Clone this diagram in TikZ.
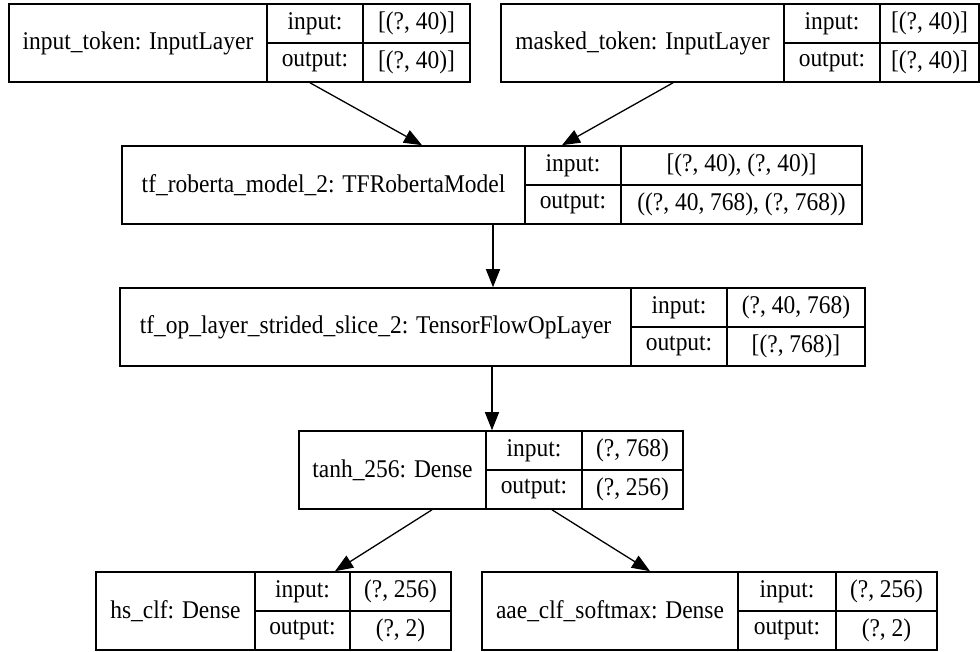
\documentclass[tikz,border=0pt]{standalone}
\usepackage{fontspec}
\setmainfont{Liberation Serif}
\newfontfamily\timesfont[FakeStretch=0.92]{Liberation Serif}
\usetikzlibrary{arrows.meta,fit}
\tikzset{
  layerbox/.style={draw, line width=1.6pt, inner sep=0pt},
  cellline/.style={line width=1.3pt},
  txt/.style={inner sep=0pt, font=\timesfont\fontsize{25.5}{30}\selectfont},
  flow/.style={line width=1.3pt, -{Triangle[length=18pt,width=14pt]}}
}
% #1 name, #2 left, #3 divider 1, #4 divider 2, #5 right, #6 top, #7 label, #8 input shape, #9 output shape
\newcommand{\kerasbox}[9]{%
  \path (#2,#6) coordinate (#1-nw) (#5,#6+78) coordinate (#1-se);
  \node[layerbox, fit=(#1-nw)(#1-se)] (#1) {};
  \draw[cellline] (#3,#6) -- (#3,#6+78) (#4,#6) -- (#4,#6+78) (#3,#6+39) -- (#5,#6+39);
  \node[txt] (#1-lab) at ({(#2+#3)/2},{#6+39}) {#7};
  \node[txt] (#1-ik) at ({(#3+#4)/2},{#6+19.5}) {input:};
  \node[txt] (#1-ok) at ({(#3+#4)/2},{#6+58.5}) {output:};
  \node[txt] (#1-iv) at ({(#4+#5)/2},{#6+19.5}) {#8};
  \node[txt] (#1-ov) at ({(#4+#5)/2},{#6+58.5}) {#9};
}
\begin{document}
\begin{tikzpicture}[x=1pt,y=-1pt]
\useasboundingbox[fill=white] (0,0) rectangle (980,652);
\kerasbox{tok}{9}{267}{363}{470}{4}{input\_token: InputLayer}{[(?, 40)]}{[(?, 40)]}
\kerasbox{msk}{501}{784}{880}{979}{4}{masked\_token: InputLayer}{[(?, 40)]}{[(?, 40)]}
\kerasbox{rob}{122}{525}{621}{862}{146}{tf\_roberta\_model\_2: TFRobertaModel}{[(?, 40), (?, 40)]}{((?, 40, 768), (?, 768))}
\kerasbox{sl}{120}{631}{727}{865}{288}{tf\_op\_layer\_strided\_slice\_2: TensorFlowOpLayer}{(?, 40, 768)}{[(?, 768)]}
\kerasbox{th}{299}{486}{582}{683}{431}{tanh\_256: Dense}{(?, 768)}{(?, 256)}
\kerasbox{hs}{96}{255}{350}{451}{572}{hs\_clf: Dense}{(?, 256)}{(?, 2)}
\kerasbox{aae}{482}{738}{836}{937}{572}{aae\_clf\_softmax: Dense}{(?, 256)}{(?, 2)}
\draw[flow] (310,0 |- tok.south) -- (422,0 |- rob.north);
\draw[flow] (673,0 |- msk.south) -- (562,0 |- rob.north);
\draw[flow] (493,0 |- rob.south) -- (493,0 |- sl.north);
\draw[flow] (492,0 |- sl.south) -- (492,0 |- th.north);
\draw[flow] (432,0 |- th.south) -- (335,0 |- hs.north);
\draw[flow] (552,0 |- th.south) -- (650,0 |- aae.north);
\end{tikzpicture}
\end{document}
